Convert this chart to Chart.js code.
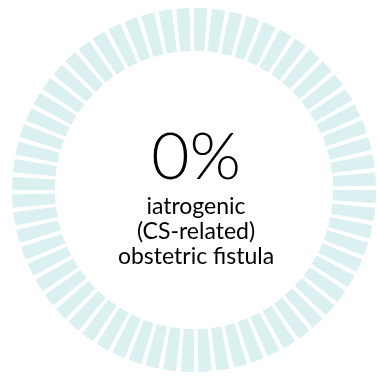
<!DOCTYPE html>
<html>
<head>
<meta charset="utf-8">
<script src="https://cdn.jsdelivr.net/npm/chart.js@4/dist/chart.umd.min.js"></script>
<style>
    html, body { margin: 0; padding: 0; background: #ffffff; }
    #wrap { position: relative; width: 377px; height: 376px; overflow: hidden; }
    #gauge { position: absolute; left: 0; top: 0; }
    .label { position: absolute; left: 0; width: 392px; text-align: center; color: #000000; font-family: "Lato", "Open Sans", sans-serif; white-space: nowrap; }
    #pct { top: 114px; font-size: 66px; font-weight: 300; line-height: 80px; }
    #caption { top: 193px; font-size: 23px; line-height: 25px; font-weight: 400; }
</style>
</head>
<body>
<div id="wrap">
    <canvas id="gauge" width="377" height="376"></canvas>
    <div class="label" id="pct"></div>
    <div class="label" id="caption"></div>
</div>
<script>
    // value shown in the middle of the gauge
    const percentValue = [0];
    const captionLines = ["iatrogenic", "(CS-related)", "obstetric fistula"];

    // ring of tick marks: one tick then one gap, 64 times round
    const tickCount = 64;
    const tickPattern = [4.2, 1.425];
    const tickColors = ["#daf0f1", "rgba(255,255,255,0)"];

    let ringData = [];
    let ringColors = [];
    for (let i = 0; i < tickCount; i++) {
        ringData = ringData.concat(tickPattern);
        ringColors = ringColors.concat(tickColors);
    }

    document.getElementById("pct").textContent = percentValue[0] + "%";
    document.getElementById("caption").innerHTML = captionLines.join("<br>");

    const ctx = document.getElementById("gauge").getContext("2d");
    new Chart(ctx, {
        type: "doughnut",
        data: {
            labels: ringData.map((_, i) => String(i)),
            datasets: [{
                data: ringData,
                backgroundColor: ringColors,
                borderWidth: 0,
                hoverOffset: 0
            }]
        },
        options: {
            responsive: false,
            animation: false,
            cutout: "76.4%",
            rotation: 0,
            events: [],
            layout: { padding: { left: 12, top: 8, right: 1, bottom: 4 } },
            plugins: { legend: { display: false }, tooltip: { enabled: false } }
        }
    });
</script>
</body>
</html>
